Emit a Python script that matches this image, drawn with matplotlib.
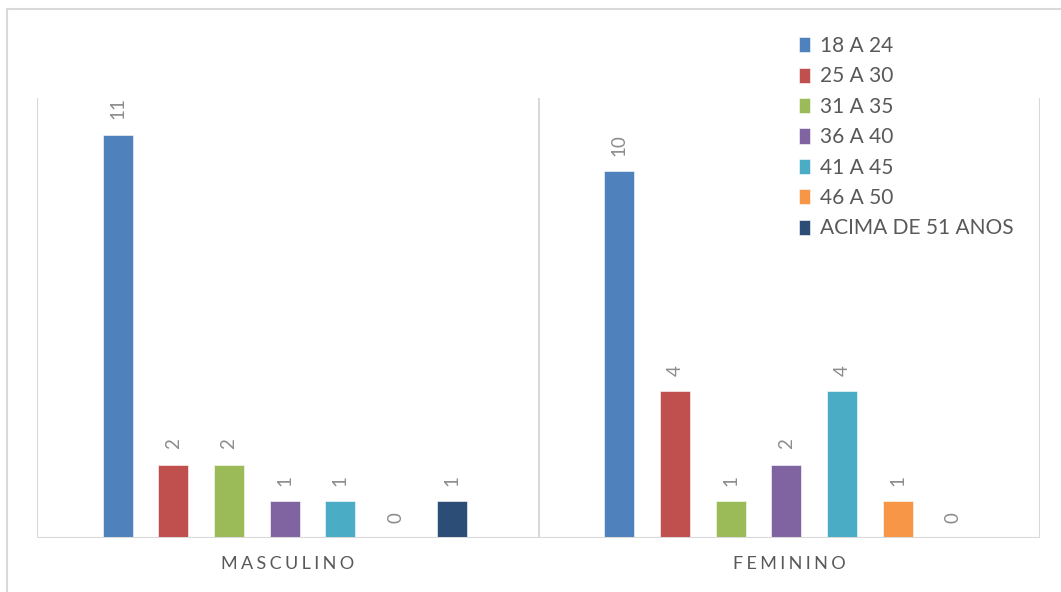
import matplotlib
matplotlib.use('Agg')
import matplotlib.pyplot as plt
from matplotlib.patches import Rectangle
import numpy as np

plt.rcParams['font.family'] = ['Lato', 'DejaVu Sans']

# ---- data ----
categories = ['MASCULINO', 'FEMININO']
series = ['18 A 24', '25 A 30', '31 A 35', '36 A 40', '41 A 45', '46 A 50',
          'ACIMA DE 51 ANOS']
values = [
    [11, 10],   # 18 A 24
    [2, 4],     # 25 A 30
    [2, 1],     # 31 A 35
    [1, 2],     # 36 A 40
    [1, 4],     # 41 A 45
    [0, 1],     # 46 A 50
    [1, 0],     # ACIMA DE 51 ANOS
]
colors = ['#4F81BD', '#C0504D', '#9BBB59', '#8064A2', '#4BACC6', '#F79646',
          '#2C4D75']

W, H = 1061, 592
fig = plt.figure(figsize=(W / 100, H / 100), dpi=100)
ax = fig.add_axes([37 / W, 1 - 538 / H, (1040 - 37) / W, (538 - 98) / H])

# outer chart border (runs off the right/bottom edge in the reference)
fig.patches.append(Rectangle((7 / W, -0.1), 1.2, 1 - 9 / H + 0.1,
                             transform=fig.transFigure, fill=False,
                             ec='#d9d9d9', lw=1.5, zorder=0))

x = np.arange(len(categories))
step, width = 0.111, 0.06
n = len(series)
for i, (name, vals, c) in enumerate(zip(series, values, colors)):
    xs = x + (i - (n - 1) / 2) * step - 0.006
    bars = ax.bar(xs, vals, width=width, color=c, ec='white', lw=0.4,
                  label=name, zorder=2)
    for b, v in zip(bars, vals):
        ax.annotate(str(v), (b.get_x() + b.get_width() / 2, v),
                    xytext=(0, 11), textcoords='offset points',
                    rotation=90, ha='center', va='bottom',
                    fontsize=13.5, color='#8c8c8c')

ax.set_xlim(-0.5, 1.5)
ax.set_ylim(0, 12)
for s in ax.spines.values():
    s.set_visible(False)
ax.set_yticks([])
for xv in (-0.5, 0.5, 1.5):
    ax.axvline(xv, color='#d9d9d9', lw=1.5, zorder=1)
ax.axhline(0, color='#d9d9d9', lw=2.2, zorder=3)

ax.set_xticks(x)
ax.set_xticklabels(['\u2009\u200a'.join(c) for c in categories],
                   fontsize=13, color='#595959')
ax.tick_params(axis='x', length=0, pad=13)

ax.legend(loc='upper left', bbox_to_anchor=(799 / W, 1 - 36 / H),
          bbox_transform=fig.transFigure, frameon=False, fontsize=15,
          handlelength=0.55, handleheight=0.75, handletextpad=0.45,
          labelspacing=0.5, labelcolor='#595959', borderaxespad=0,
          borderpad=0)

fig.savefig('out.png', dpi=100)
